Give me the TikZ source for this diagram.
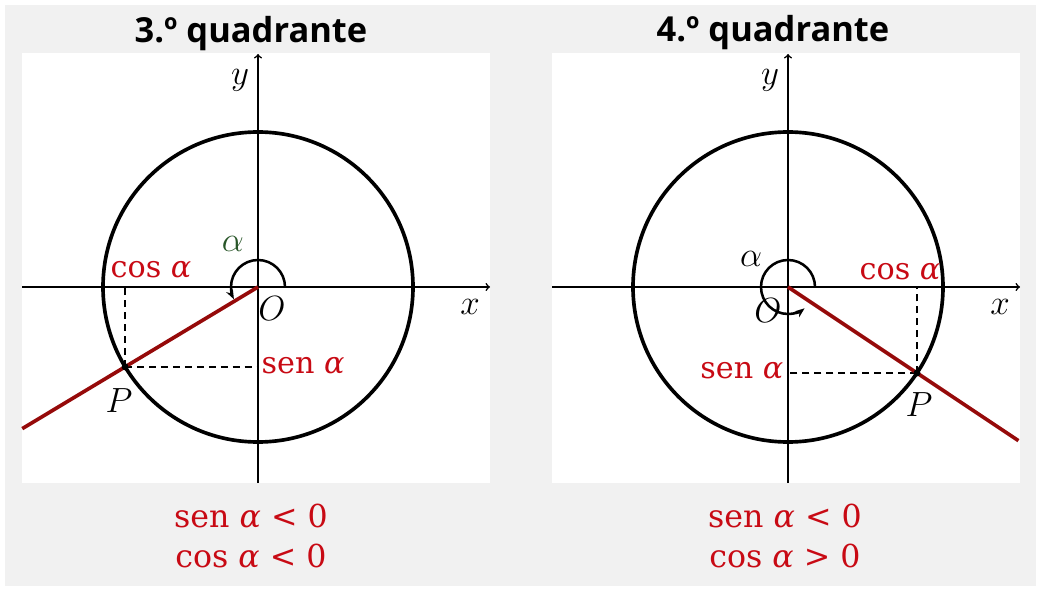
\documentclass[tikz,border=0pt]{standalone}
\usepackage{amsmath,amssymb}
\usepackage{fontspec}
\usepackage{xcolor}
\usetikzlibrary{arrows.meta,calc,positioning}
\newfontfamily\titlefont{Open Sans}
\newfontfamily\labelfont{DejaVu Serif}
\definecolor{panelgray}{RGB}{241,241,241}
\definecolor{rayred}{RGB}{150,10,10}
\definecolor{signred}{RGB}{200,10,20}
\definecolor{anglegreen}{RGB}{40,85,40}
\tikzset{
  axis/.style={line width=1.1pt, -to},
  ray/.style={rayred, line width=2.6pt},
  projline/.style={line width=1.2pt, dash pattern=on 5pt off 3.5pt},
  redlabel/.style={signred, font=\labelfont\fontsize{21.5}{24}\selectfont, inner sep=1pt},
  signlabel/.style={signred, font=\labelfont\fontsize{22.5}{29}\selectfont, align=center},
  mathlabel/.style={font=\fontsize{25}{27}\selectfont, inner sep=1pt},
  titlelabel/.style={font=\titlefont\bfseries\fontsize{24.5}{26}\selectfont}
}
\newcommand{\circleaxes}{%
  % White panel, axes and the unit circle around O.
  \fill[white] (-236,-196) rectangle (232,234);
  \draw[axis] (-236,0) -- (232,0);
  \draw[axis] (0,-196) -- (0,233);
  \draw[line width=2.6pt] (0,0) circle[radius=155];
  \node[mathlabel] (xlab) at (212,-20) {$x$};
  \node[mathlabel] (ylab) at (-18,207) {$y$};
}

\begin{document}
\begin{tikzpicture}[x=0.025cm, y=0.025cm, line cap=butt, line join=round]
  \useasboundingbox (0,0) rectangle (1040,-590);
  \fill[panelgray] (5,-5) rectangle (1036,-586);

  % Third quadrant.
  \node[titlelabel] (tthree) at (251,-34) {3.º quadrante};
  \begin{scope}[shift={(258,-287)}]
    \circleaxes
    \coordinate (O3) at (0,0);
    \coordinate (P3) at (211:155);
    \coordinate (E3) at (211:275);
    \draw[projline] (P3) -- (P3 |- O3);
    \draw[projline] (P3) -- (P3 -| O3);
    \draw[ray] (O3) -- (E3);
    \fill (P3) circle[radius=3.5];
    \draw[line width=1.8pt, -{Stealth[length=7pt]}] (27,0)
      arc[start angle=0, end angle=207, radius=27];
    \node[mathlabel, anglegreen] (a3) at (-25,43) {$\alpha$};
    \node[mathlabel] (o3) at (14,-22) {$O$};
    \node[mathlabel] (p3) at (-139,-114) {$P$};
    \node[redlabel] (c3) at (-107,17) {cos \textit{α}};
    \node[redlabel, anchor=west] (s3) at (2,-79) {sen \textit{α}};
  \end{scope}
  \node[signlabel] (r3) at (251,-536) {sen \textit{α} < 0\\cos \textit{α} < 0};

  % Fourth quadrant.
  \node[titlelabel] (tfour) at (773,-33) {4.º quadrante};
  \begin{scope}[shift={(788,-287)}]
    \circleaxes
    \coordinate (O4) at (0,0);
    \coordinate (P4) at (-33.7:155);
    \coordinate (E4) at (-33.7:277);
    \draw[projline] (P4) -- (P4 |- O4);
    \draw[projline] (P4) -- (P4 -| O4);
    \draw[ray] (O4) -- (E4);
    \fill (P4) circle[radius=3.5];
    \draw[line width=1.8pt, -{Stealth[length=7pt]}] (27,0)
      arc[start angle=0, end angle=308, radius=27];
    \node[mathlabel] (a4) at (-37,28) {$\alpha$};
    \node[mathlabel] (o4) at (-20,-24) {$O$};
    \node[mathlabel] (p4) at (131,-118) {$P$};
    \node[redlabel] (c4) at (112,15) {cos \textit{α}};
    \node[redlabel, anchor=east] (s4) at (-3,-84) {sen \textit{α}};
  \end{scope}
  \node[signlabel] (r4) at (785,-536) {sen \textit{α} < 0\\cos \textit{α} > 0};
\end{tikzpicture}
\end{document}
